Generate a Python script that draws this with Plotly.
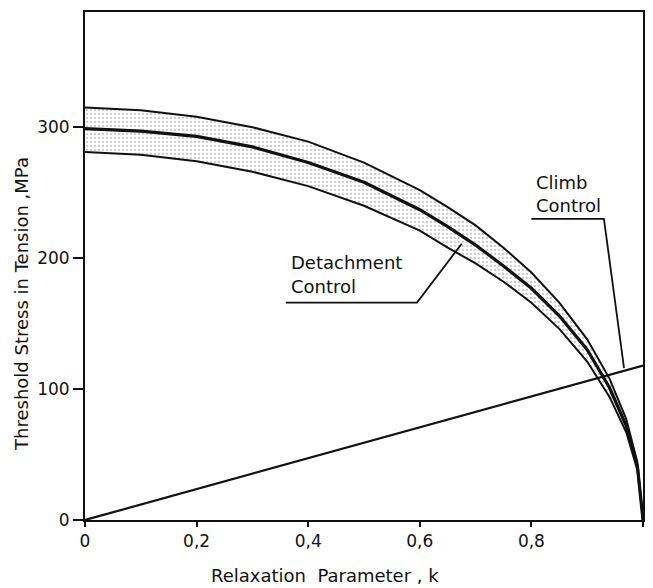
import plotly.graph_objects as go

# Relaxation parameter k
k = [0.0, 0.1, 0.2, 0.3, 0.4, 0.5, 0.6, 0.65, 0.7, 0.75, 0.8, 0.85, 0.9, 0.94, 0.97, 0.99, 1.0]
# Detachment control, upper band limit (MPa)
upper = [315, 313, 308, 300, 289, 273, 252, 239, 225, 208, 189, 166, 138, 108, 77, 44, 0]
# Detachment control, central curve (MPa)
middle = [299, 297, 293, 285, 273, 258, 237, 224, 210, 194, 177, 156, 130, 101, 72, 41, 0]
# Detachment control, lower band limit (MPa)
lower = [281, 279, 274, 266, 255, 240, 221, 208, 196, 182, 166, 146, 121, 94, 67, 38, 0]
# Climb control line
climb_k = [0.0, 1.0]
climb_s = [0, 118]

# label leader lines
det_lead_k = [0.36, 0.595, 0.675]
det_lead_s = [166, 166, 211]
climb_lead_k = [0.80, 0.93, 0.966]
climb_lead_s = [230, 230, 116]

xtick_vals = [0, 0.2, 0.4, 0.6, 0.8, 1.0]
xtick_text = ["0", "0,2", "0,4", "0,6", "0,8", "1,0"]
ytick_vals = [0, 100, 200, 300]

FONT = "DejaVu Sans, Liberation Sans, sans-serif"
BLK = "#111111"

fig = go.Figure()
fig.add_trace(go.Scatter(x=k, y=lower, mode="lines", line=dict(color=BLK, width=2), hoverinfo="skip"))
fig.add_trace(go.Scatter(x=k, y=upper, mode="lines", line=dict(color=BLK, width=2),
                         fill="tonexty", fillcolor="rgba(0,0,0,0)",
                         fillpattern=dict(shape=".", fgcolor="#9a9a9a", bgcolor="white",
                                          size=4, solidity=0.25),
                         hoverinfo="skip"))
fig.add_trace(go.Scatter(x=k, y=middle, mode="lines", line=dict(color=BLK, width=3.2), hoverinfo="skip"))
fig.add_trace(go.Scatter(x=climb_k, y=climb_s, mode="lines", line=dict(color=BLK, width=2.2), hoverinfo="skip"))
fig.add_trace(go.Scatter(x=det_lead_k, y=det_lead_s, mode="lines", line=dict(color=BLK, width=1.8), hoverinfo="skip"))
fig.add_trace(go.Scatter(x=climb_lead_k, y=climb_lead_s, mode="lines", line=dict(color=BLK, width=1.8), hoverinfo="skip"))

fig.add_annotation(x=0.365, y=197, xref="x", yref="y", text="Detachment", showarrow=False,
                   xanchor="left", yanchor="middle", font=dict(family=FONT, size=18, color=BLK))
fig.add_annotation(x=0.365, y=178, xref="x", yref="y", text="Control", showarrow=False,
                   xanchor="left", yanchor="middle", font=dict(family=FONT, size=18, color=BLK))
fig.add_annotation(x=0.805, y=258, xref="x", yref="y", text="Climb", showarrow=False,
                   xanchor="left", yanchor="middle", font=dict(family=FONT, size=18, color=BLK))
fig.add_annotation(x=0.805, y=240, xref="x", yref="y", text="Control", showarrow=False,
                   xanchor="left", yanchor="middle", font=dict(family=FONT, size=18, color=BLK))

# axis titles
fig.add_annotation(x=0.43, y=-0.085, xref="paper", yref="paper", text="Relaxation  Parameter , k",
                   showarrow=False, xanchor="center", yanchor="top",
                   font=dict(family=FONT, size=18, color=BLK))
fig.add_annotation(x=-0.115, y=0.425, xref="paper", yref="paper", text="Threshold Stress in Tension ,MPa",
                   showarrow=False, textangle=-90, xanchor="center", yanchor="middle",
                   font=dict(family=FONT, size=18, color=BLK))

fig.update_layout(
    width=653, height=588,
    margin=dict(l=85, r=8, t=12, b=68),
    paper_bgcolor="white", plot_bgcolor="white",
    showlegend=False,
    font=dict(family=FONT, size=17, color=BLK),
)
fig.update_xaxes(range=[0, 1.0], tickvals=xtick_vals, ticktext=xtick_text,
                 showgrid=False, zeroline=False, showline=True, linecolor=BLK, linewidth=2,
                 mirror=True, ticks="outside", ticklen=5, tickwidth=2, tickcolor=BLK,
                 tickfont=dict(family=FONT, size=17, color=BLK))
fig.update_yaxes(range=[0, 388], tickvals=ytick_vals,
                 showgrid=False, zeroline=False, showline=True, linecolor=BLK, linewidth=2,
                 mirror=True, ticks="outside", ticklen=10, tickwidth=2, tickcolor=BLK,
                 tickfont=dict(family=FONT, size=17, color=BLK))

fig.write_html("out.html")
